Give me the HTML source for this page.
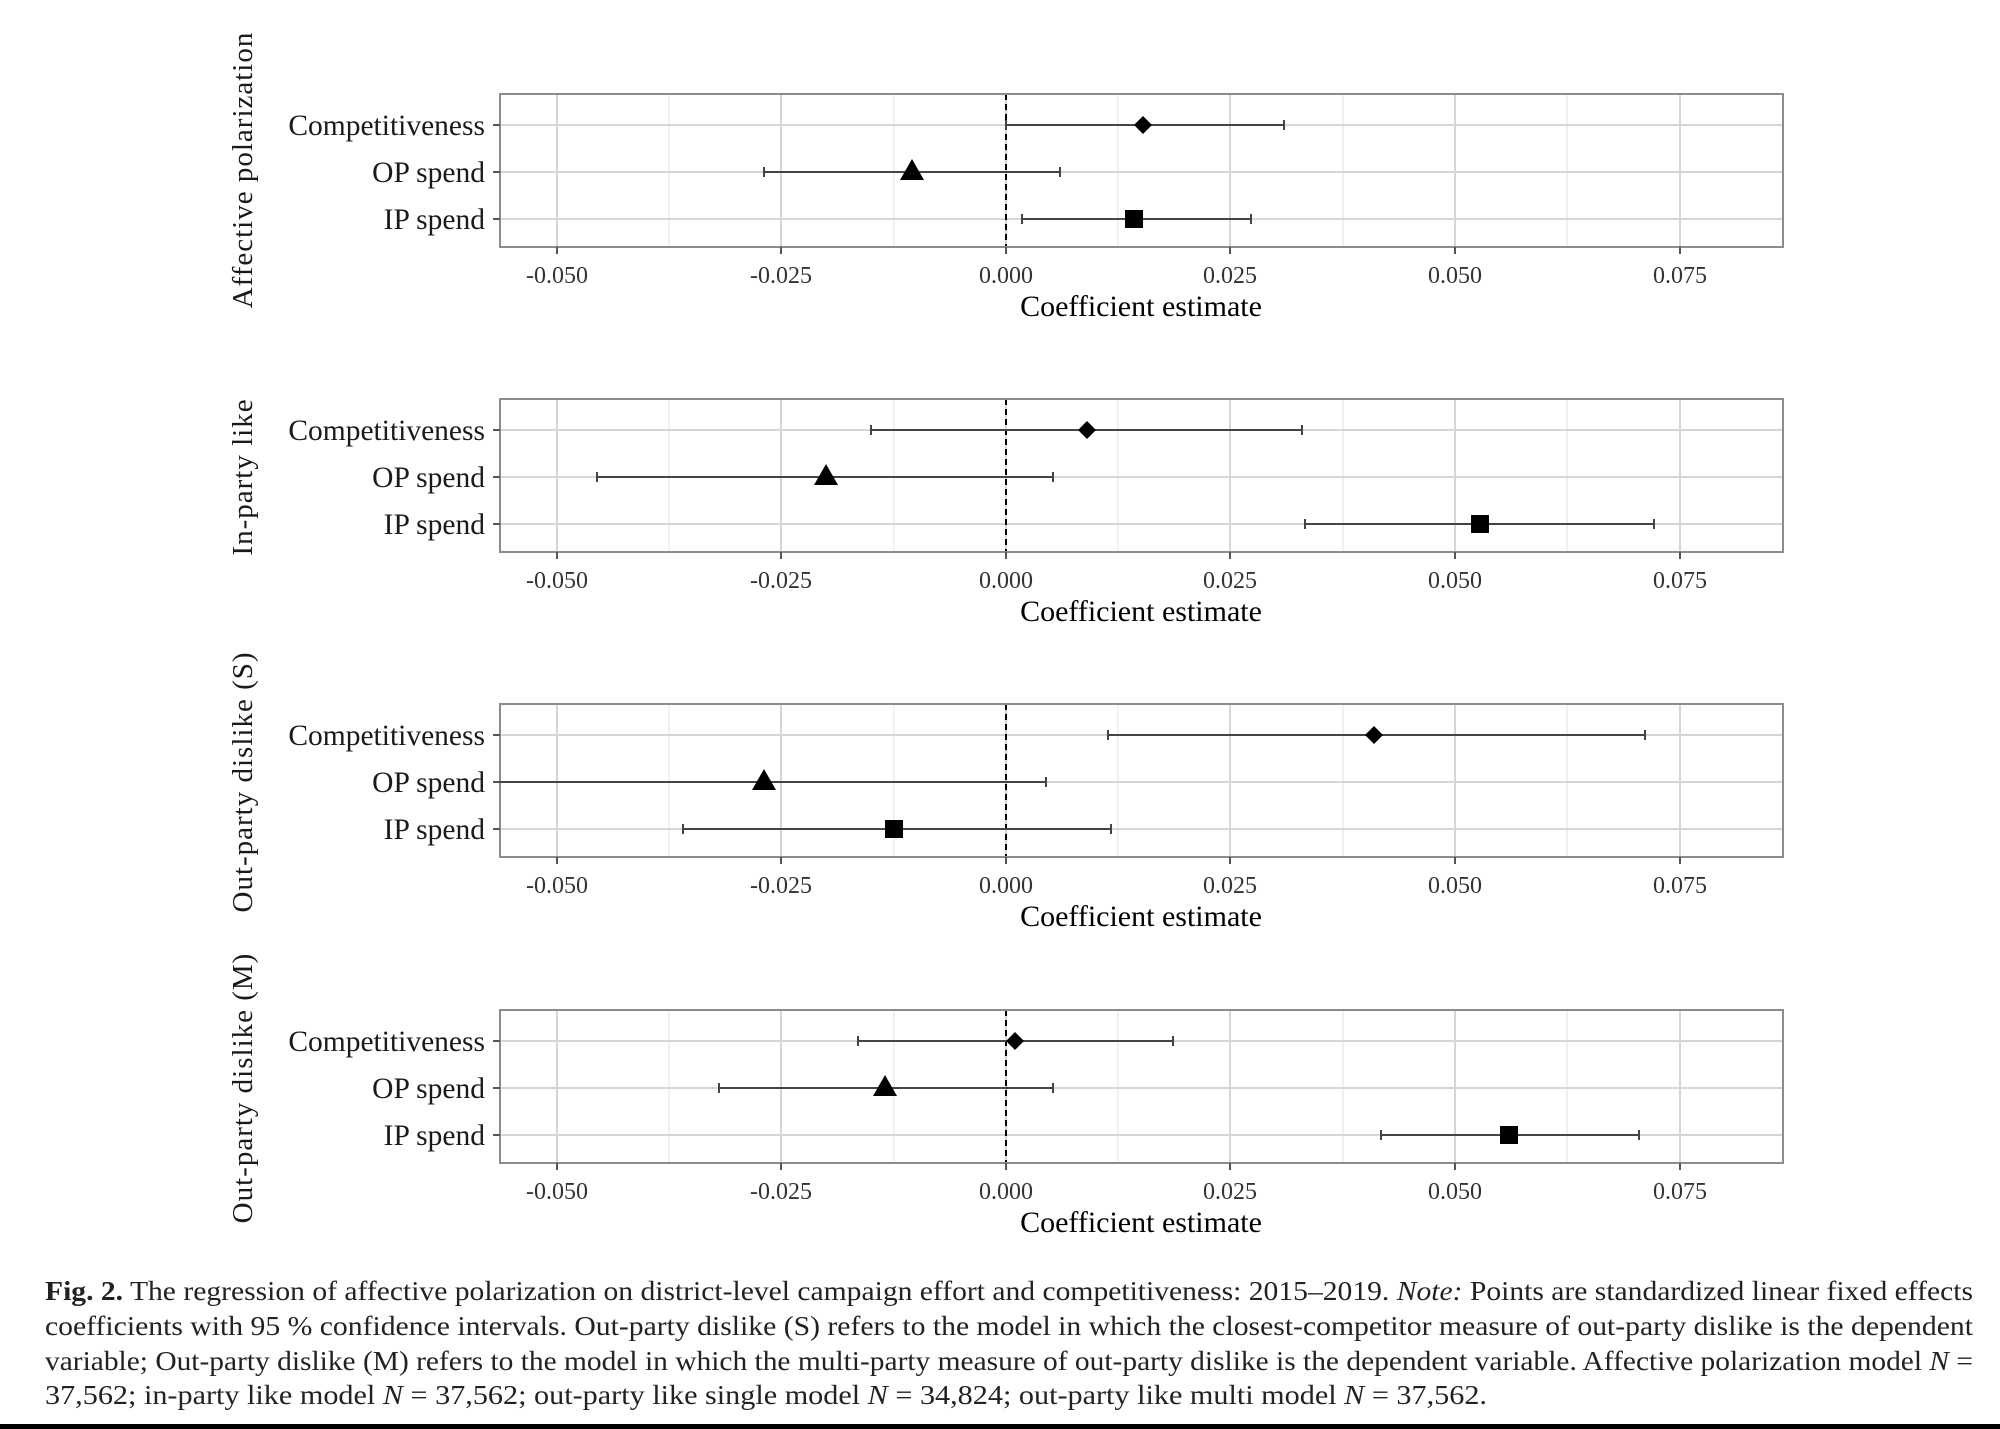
<!DOCTYPE html>
<html><head><meta charset="utf-8"><style>
html,body{margin:0;padding:0;background:#fff;}
svg{display:block;}
text{font-family:"Liberation Serif",serif;}
</style></head><body>
<svg width="2000" height="1429" viewBox="0 0 2000 1429" xmlns="http://www.w3.org/2000/svg">
<defs>
<g id="frame">
  <rect x="500" y="0" width="1283" height="153" fill="#fff"/>
  <g stroke="#ececec" stroke-width="1.5">
    <line x1="669" y1="0" x2="669" y2="153"/><line x1="894" y1="0" x2="894" y2="153"/>
    <line x1="1118" y1="0" x2="1118" y2="153"/><line x1="1343" y1="0" x2="1343" y2="153"/>
    <line x1="1567" y1="0" x2="1567" y2="153"/>
  </g>
  <g stroke="#d6d6d6" stroke-width="2">
    <line x1="557" y1="0" x2="557" y2="153"/><line x1="781" y1="0" x2="781" y2="153"/>
    <line x1="1006" y1="0" x2="1006" y2="153"/><line x1="1230" y1="0" x2="1230" y2="153"/>
    <line x1="1455" y1="0" x2="1455" y2="153"/><line x1="1680" y1="0" x2="1680" y2="153"/>
    <line x1="500" y1="31" x2="1783" y2="31"/><line x1="500" y1="78" x2="1783" y2="78"/>
    <line x1="500" y1="125" x2="1783" y2="125"/>
  </g>
  <line x1="1006" y1="0" x2="1006" y2="153" stroke="#000" stroke-width="2" stroke-dasharray="6,4"/>
  <rect x="500" y="0" width="1283" height="153" fill="none" stroke="#8c8c8c" stroke-width="2"/>
  <g stroke="#555" stroke-width="2">
    <line x1="493" y1="31" x2="500" y2="31"/><line x1="493" y1="78" x2="500" y2="78"/><line x1="493" y1="125" x2="500" y2="125"/>
    <line x1="557" y1="153" x2="557" y2="160"/><line x1="781" y1="153" x2="781" y2="160"/><line x1="1006" y1="153" x2="1006" y2="160"/>
    <line x1="1230" y1="153" x2="1230" y2="160"/><line x1="1455" y1="153" x2="1455" y2="160"/><line x1="1680" y1="153" x2="1680" y2="160"/>
  </g>
  <g font-size="29.5" fill="#1a1a1a" text-anchor="end">
    <text x="485" y="41">Competitiveness</text>
    <text x="485" y="88">OP spend</text>
    <text x="485" y="135">IP spend</text>
  </g>
  <g font-size="24" fill="#333" text-anchor="middle">
    <text x="557" y="189">-0.050</text><text x="781" y="189">-0.025</text><text x="1006" y="189">0.000</text>
    <text x="1230" y="189">0.025</text><text x="1455" y="189">0.050</text><text x="1680" y="189">0.075</text>
  </g>
  <text x="1141" y="222" font-size="30" fill="#000" text-anchor="middle">Coefficient estimate</text>
</g>
</defs>

<g transform="translate(0,94)">
  <use href="#frame"/>
  <g stroke="#444" stroke-width="2">
    <line x1="1006" y1="31" x2="1284" y2="31"/><line x1="1006" y1="26" x2="1006" y2="36"/><line x1="1284" y1="26" x2="1284" y2="36"/>
    <line x1="764" y1="78" x2="1060" y2="78"/><line x1="764" y1="73" x2="764" y2="83"/><line x1="1060" y1="73" x2="1060" y2="83"/>
    <line x1="1022" y1="125" x2="1251" y2="125"/><line x1="1022" y1="120" x2="1022" y2="130"/><line x1="1251" y1="120" x2="1251" y2="130"/>
  </g>
  <polygon points="1143,22 1152,31 1143,40 1134,31" fill="#000"/>
  <polygon points="912,65 924,86 900,86" fill="#000"/>
  <rect x="1125" y="116" width="18" height="18" fill="#000"/>
  <text transform="translate(252,76) rotate(-90)" font-size="29" text-anchor="middle" fill="#1a1a1a" letter-spacing="1">Affective polarization</text>
</g>

<g transform="translate(0,399)">
  <use href="#frame"/>
  <g stroke="#444" stroke-width="2">
    <line x1="871" y1="31" x2="1302" y2="31"/><line x1="871" y1="26" x2="871" y2="36"/><line x1="1302" y1="26" x2="1302" y2="36"/>
    <line x1="597" y1="78" x2="1053" y2="78"/><line x1="597" y1="73" x2="597" y2="83"/><line x1="1053" y1="73" x2="1053" y2="83"/>
    <line x1="1305" y1="125" x2="1654" y2="125"/><line x1="1305" y1="120" x2="1305" y2="130"/><line x1="1654" y1="120" x2="1654" y2="130"/>
  </g>
  <polygon points="1087,22 1096,31 1087,40 1078,31" fill="#000"/>
  <polygon points="826,65 838,86 814,86" fill="#000"/>
  <rect x="1471" y="116" width="18" height="18" fill="#000"/>
  <text transform="translate(252,78) rotate(-90)" font-size="29" text-anchor="middle" fill="#1a1a1a" letter-spacing="1">In-party like</text>
</g>

<g transform="translate(0,704)">
  <use href="#frame"/>
  <g stroke="#444" stroke-width="2">
    <line x1="1108" y1="31" x2="1645" y2="31"/><line x1="1108" y1="26" x2="1108" y2="36"/><line x1="1645" y1="26" x2="1645" y2="36"/>
    <line x1="500" y1="78" x2="1046" y2="78"/><line x1="1046" y1="73" x2="1046" y2="83"/>
    <line x1="683" y1="125" x2="1111" y2="125"/><line x1="683" y1="120" x2="683" y2="130"/><line x1="1111" y1="120" x2="1111" y2="130"/>
  </g>
  <polygon points="1374,22 1383,31 1374,40 1365,31" fill="#000"/>
  <polygon points="764,65 776,86 752,86" fill="#000"/>
  <rect x="885" y="116" width="18" height="18" fill="#000"/>
  <text transform="translate(252,78) rotate(-90)" font-size="29" text-anchor="middle" fill="#1a1a1a" letter-spacing="1">Out-party dislike (S)</text>
</g>

<g transform="translate(0,1010)">
  <use href="#frame"/>
  <g stroke="#444" stroke-width="2">
    <line x1="858" y1="31" x2="1173" y2="31"/><line x1="858" y1="26" x2="858" y2="36"/><line x1="1173" y1="26" x2="1173" y2="36"/>
    <line x1="719" y1="78" x2="1053" y2="78"/><line x1="719" y1="73" x2="719" y2="83"/><line x1="1053" y1="73" x2="1053" y2="83"/>
    <line x1="1381" y1="125" x2="1639" y2="125"/><line x1="1381" y1="120" x2="1381" y2="130"/><line x1="1639" y1="120" x2="1639" y2="130"/>
  </g>
  <polygon points="1015,22 1024,31 1015,40 1006,31" fill="#000"/>
  <polygon points="885,65 897,86 873,86" fill="#000"/>
  <rect x="1500" y="116" width="18" height="18" fill="#000"/>
  <text transform="translate(252,78) rotate(-90)" font-size="29" text-anchor="middle" fill="#1a1a1a" letter-spacing="1">Out-party dislike (M)</text>
</g>

<g font-size="27" fill="#222">
  <text x="45" y="1300" textLength="1928" lengthAdjust="spacingAndGlyphs"><tspan font-weight="bold">Fig. 2.</tspan> The regression of affective polarization on district-level campaign effort and competitiveness: 2015–2019. <tspan font-style="italic">Note:</tspan> Points are standardized linear fixed effects</text>
  <text x="45" y="1335" textLength="1928" lengthAdjust="spacingAndGlyphs">coefficients with 95 % confidence intervals. Out-party dislike (S) refers to the model in which the closest-competitor measure of out-party dislike is the dependent</text>
  <text x="45" y="1370" textLength="1928" lengthAdjust="spacingAndGlyphs">variable; Out-party dislike (M) refers to the model in which the multi-party measure of out-party dislike is the dependent variable. Affective polarization model <tspan font-style="italic">N</tspan> =</text>
  <text x="45" y="1404" textLength="1442" lengthAdjust="spacingAndGlyphs">37,562; in-party like model <tspan font-style="italic">N</tspan> = 37,562; out-party like single model <tspan font-style="italic">N</tspan> = 34,824; out-party like multi model <tspan font-style="italic">N</tspan> = 37,562.</text>
</g>
<rect x="0" y="1424" width="2000" height="5" fill="#000"/>
</svg>
</body></html>
